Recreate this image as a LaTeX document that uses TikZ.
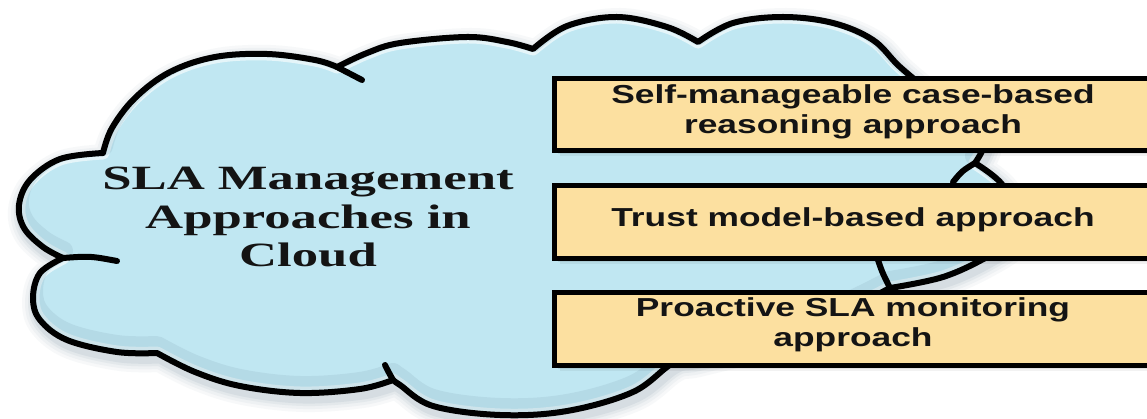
\documentclass[tikz,border=0pt]{standalone}
\usepackage{fontspec}
\newfontfamily\titlefont{Liberation Serif}[FakeStretch=1.55]
\newfontfamily\boxfont{Liberation Sans}[FakeStretch=1.36]
\definecolor{cloudblue}{RGB}{192,231,242}
\definecolor{boxfill}{RGB}{252,224,160}
\definecolor{glowc}{RGB}{100,130,150}
\tikzset{
  outline/.style={draw=black, line width=6, line join=round, line cap=round},
  approachbox/.style={fill=boxfill, draw=black, line width=5},
  boxtext/.style={font=\boxfont\bfseries\fontsize{26}{29.5}\selectfont, align=center, text=black!92},
  titletext/.style={font=\titlefont\bfseries\fontsize{34}{38.5}\selectfont, align=center, text=black!92},
}
\def\cloudpath{
 plot[smooth,tension=0.6] coordinates {(103,153) (112,128) (135,98) (170,72) (215,57) (267,54) (315,60) (337,67)}
 -- plot[smooth,tension=0.6] coordinates {(337,67) (367,53) (400,43) (467,37) (507,42) (533,49)}
 -- plot[smooth,tension=0.6] coordinates {(533,49) (567,26) (617,17) (667,27) (698,42)}
 -- plot[smooth,tension=0.6] coordinates {(698,42) (733,23) (783,17) (833,23) (873,40) (900,67) (935,95) (970,115) (985,140) (975,163)}
 -- plot[smooth,tension=0.6] coordinates {(975,163) (1000,182) (1017,210) (1013,238) (987,257) (943,277) (890,288)}
 -- plot[smooth,tension=0.6] coordinates {(890,288) (800,330) (700,357) (673,363) (633,392) (567,411) (500,415) (433,406) (400,385) (393,380)}
 -- plot[smooth,tension=0.6] coordinates {(393,380) (360,389) (300,393) (240,386) (195,372) (157,353)}
 -- plot[smooth,tension=0.6] coordinates {(157,353) (117,352) (67,340) (40,320) (33,298) (40,273) (63,258)}
 -- plot[smooth,tension=0.6] coordinates {(63,258) (43,247) (24,228) (19,205) (30,180) (60,159) (103,153)}
 -- cycle}
\begin{document}
\begin{tikzpicture}[x=1pt, y=-1pt]
\useasboundingbox (0,0) rectangle (1147,419);
\clip (0,0) rectangle (1147,419);
\fill[white] (0,0) rectangle (1147,419);
% cloud glow / shadow
\foreach \w/\o in {28/0.05, 22/0.06, 16/0.08, 11/0.10} {
  \draw[glowc, opacity=\o, line width=\w, line join=round, shift={(3,5)}] \cloudpath;
}
% cloud body
\fill[cloudblue] \cloudpath;
\begin{scope}
  \clip \cloudpath;
  \draw[white, opacity=0.6, line width=13, line join=round] \cloudpath;
  \draw[cloudblue!60!glowc, opacity=0.3, line width=20, line join=round, shift={(0,-7)}] \cloudpath;
\end{scope}
\draw[outline] \cloudpath;
% curls
\coordinate (c1a) at (337,67);  \coordinate (c1b) at (362,80);
\coordinate (c2a) at (63,258);  \coordinate (c2b) at (117,261);
\coordinate (c3a) at (975,163); \coordinate (c3b) at (953,182);
\coordinate (c4a) at (890,288); \coordinate (c4b) at (877,257);
\coordinate (c5a) at (393,380); \coordinate (c5b) at (385,365);
\draw[outline] (c1a) .. controls (350,73) .. (c1b);
\draw[outline] (c2a) .. controls (90,256) .. (c2b);
\draw[outline] (c3a) .. controls (962,171) .. (c3b);
\draw[outline] (c4a) .. controls (882,272) .. (c4b);
\draw[outline] (c5a) .. controls (388,371) .. (c5b);
% box shadows
\foreach \ya/\yb in {76/148, 183/256, 290/363} {
  \foreach \s/\o in {8/0.05, 6/0.07, 4/0.10, 2/0.14} {
    \fill[black, opacity=\o] (552+\s,\ya+\s) rectangle (1170,\yb+\s);
  }
}
% boxes
\node[approachbox, minimum width=618, minimum height=72, inner sep=0, anchor=north west] (b1) at (552,76) {};
\node[approachbox, minimum width=618, minimum height=73, inner sep=0, anchor=north west] (b2) at (552,183) {};
\node[approachbox, minimum width=618, minimum height=73, inner sep=0, anchor=north west] (b3) at (552,290) {};
\node[boxtext] (t1) at (853,112) {Self-manageable case-based\\reasoning approach};
\node[boxtext] (t2) at (853,220) {Trust model-based approach};
\node[boxtext] (t3) at (853,325) {Proactive SLA monitoring\\approach};
% title
\node[titletext] (title) at (308,217) {SLA Management\\Approaches in\\Cloud};
\end{tikzpicture}
\end{document}
